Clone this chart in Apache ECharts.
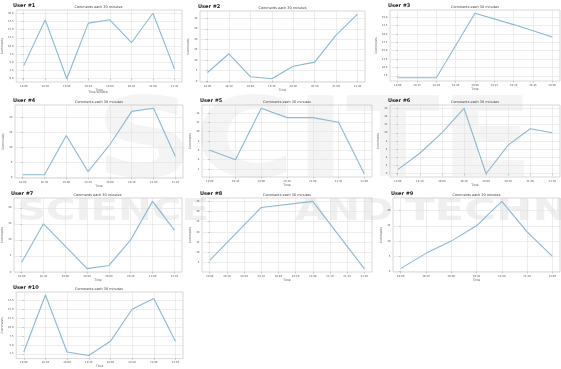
<!DOCTYPE html>
<html>
<head>
<meta charset="UTF-8">
<title>Comments per user</title>
<script src="https://cdn.jsdelivr.net/npm/echarts@6/dist/echarts.min.js"></script>
<style>
html, body { margin: 0; padding: 0; background: #fff; }
#main { width: 561px; height: 369px; }
</style>
</head>
<body>
<div id="main"></div>
<script>
// --- data ---
var users = ['User #1', 'User #2', 'User #3', 'User #4', 'User #5', 'User #6', 'User #7', 'User #8', 'User #9', 'User #10'];
var subTitle = 'Comments each 30 minutes';

var times8 = ['18:00', '18:30', '19:00', '19:30', '20:00', '20:30', '21:00', '21:30'];
var times7 = ['19:00', '19:30', '20:00', '20:30', '21:00', '21:30', '22:00'];
var times9 = ['18:00', '18:15', '18:30', '18:45', '19:00', '19:15', '19:30', '19:45', '20:00'];
var times10 = ['20:00', '20:10', '20:20', '20:30', '20:40', '20:50', '21:00', '21:10', '21:20', '21:30'];

var xLabels = [times8, times8, times9, times8, times7, times8, times8, times10, times7, times8];
// x positions of the points (index into the tick labels)
var xPos = [
  [0, 1, 2, 3, 4, 5, 6, 7],
  [0, 1, 2, 3, 4, 5, 6, 7],
  [0, 2, 4, 6, 8],
  [0, 1, 2, 3, 4, 5, 6, 7],
  [0, 1, 2, 3, 4, 5, 6],
  [0, 1, 2, 3, 4, 5, 6, 7],
  [0, 1, 2, 3, 4, 5, 6, 7],
  [0, 3, 6, 9],
  [0, 1, 2, 3, 4, 5, 6],
  [0, 1, 2, 3, 4, 5, 6, 7]
];
var comments = [
  [4, 18, 0, 17, 18, 11, 20, 3],
  [4, 13, 2, 1, 7, 9, 22, 32],
  [6.9, 6.9, 26.2, 22.8, 19.1],
  [1, 1, 14, 2, 11, 22, 23, 7],
  [6, 4, 15, 13, 13, 12, 1],
  [1, 5, 10, 16, 0, 7, 11, 10],
  [3, 15, 8, 1, 2, 10, 22, 13],
  [6, 32, 35, 2],
  [1, 6, 10, 15, 23, 13, 5],
  [3, 19, 3, 2, 6, 15, 18, 6]
];
var yTicks = [
  [0, 2.5, 5, 7.5, 10, 12.5, 15, 17.5, 20],
  [0, 5, 10, 15, 20, 25, 30],
  [7.5, 10, 12.5, 15, 17.5, 20, 22.5, 25],
  [0, 5, 10, 15, 20],
  [2, 4, 6, 8, 10, 12, 14],
  [0, 2, 4, 6, 8, 10, 12, 14, 16],
  [0, 5, 10, 15, 20],
  [5, 10, 15, 20, 25, 30, 35],
  [0, 5, 10, 15, 20],
  [2.5, 5, 7.5, 10, 12.5, 15, 17.5]
];
var yDecimals = [1, 0, 1, 0, 0, 0, 0, 0, 0, 1];

// --- layout of the panels (left, top, right, bottom in px) ---
var boxes = [
  [15, 10, 182, 82], [200, 11, 365, 82], [390, 10, 560, 81],
  [15, 105, 183, 178], [202, 105, 372, 177], [390, 105, 560, 177],
  [13, 198, 182, 272], [202, 198, 372, 272], [393, 198, 560, 272],
  [15, 292, 183, 365]
];

var lineColor = '#8ab8d1';
var gridColor = '#e0e0e0';
var textColor = '#555';

var grids = [], xAxes = [], yAxes = [], series = [], graphics = [];

// faint watermark
graphics.push({ type: 'text', x: 95, y: 92, z: -10, scaleX: 1.25,
  style: { text: 'SCITE', font: 'bold 110px "DejaVu Sans"', fill: '#f4f4f4' } });
graphics.push({ type: 'text', x: 17, y: 196, z: -10, scaleX: 1.3,
  style: { text: 'SCIENCE', font: 'bold 31px "DejaVu Sans"', fill: '#efefef' } });
graphics.push({ type: 'text', x: 295, y: 196, z: -10, scaleX: 1.3,
  style: { text: 'AND', font: 'bold 31px "DejaVu Sans"', fill: '#efefef' } });
graphics.push({ type: 'text', x: 405, y: 196, z: -10, scaleX: 1.4,
  style: { text: 'TECHNOLOGY', font: 'bold 31px "DejaVu Sans"', fill: '#efefef' } });

for (var i = 0; i < users.length; i++) {
  var b = boxes[i];
  var vals = comments[i];
  var lo = Math.min.apply(null, vals), hi = Math.max.apply(null, vals);
  var pad = (hi - lo) * 0.05;
  var nx = xLabels[i].length - 1;
  var xt = xLabels[i].map(function (d, k) { return k; });
  var labs = xLabels[i];
  var dec = yDecimals[i];

  grids.push({ left: b[0], top: b[1], width: b[2] - b[0], height: b[3] - b[1],
    show: true, borderColor: '#bdbdbd', borderWidth: 0.6 });

  xAxes.push({
    type: 'value', gridIndex: i, min: -nx * 0.05, max: nx * 1.05,
    name: 'Time', nameLocation: 'middle', nameGap: 5,
    nameTextStyle: { fontSize: 3, color: textColor },
    axisLine: { show: false },
    axisTick: { show: true, length: 1.5, lineStyle: { color: '#999', width: 0.5 }, customValues: xt },
    axisLabel: { fontSize: 2.6, color: textColor, margin: 2.5, customValues: xt,
      formatter: (function (l) { return function (v) { return l[Math.round(v)] || ''; }; })(labs) },
    splitLine: { show: true, lineStyle: { color: gridColor, width: 0.6 } }
  });

  yAxes.push({
    type: 'value', gridIndex: i, min: lo - pad, max: hi + pad,
    name: 'Comments', nameLocation: 'middle', nameGap: 10,
    nameTextStyle: { fontSize: 3, color: textColor },
    axisLine: { show: false },
    axisTick: { show: true, length: 1.5, lineStyle: { color: '#999', width: 0.5 }, customValues: yTicks[i] },
    axisLabel: { fontSize: 2.6, color: textColor, margin: 2.5, customValues: yTicks[i],
      formatter: (function (d) { return function (v) { return v.toFixed(d); }; })(dec) },
    splitLine: { show: true, lineStyle: { color: gridColor, width: 0.6 } }
  });

  series.push({
    type: 'line', xAxisIndex: i, yAxisIndex: i,
    data: xPos[i].map(function (x, k) { return [x, vals[k]]; }),
    showSymbol: false, animation: false,
    lineStyle: { color: lineColor, width: 1.1 }
  });

  graphics.push({ type: 'text', x: b[0] - 2, y: b[1] - 4,
    style: { text: users[i], font: 'bold 5px "DejaVu Sans"', fill: '#222', textVerticalAlign: 'middle' } });
  graphics.push({ type: 'text', x: (b[0] + b[2]) / 2, y: b[1] - 3,
    style: { text: subTitle, font: '3.4px "DejaVu Sans"', fill: '#333', textAlign: 'center', textVerticalAlign: 'middle' } });
}

graphics.push({ type: 'text', x: 98, y: 92.5,
  style: { text: 'Time window', font: '3px "DejaVu Sans"', fill: textColor, textAlign: 'center', textVerticalAlign: 'middle' } });

var chart = echarts.init(document.getElementById('main'));
chart.setOption({
  backgroundColor: '#fff',
  animation: false,
  textStyle: { fontFamily: 'DejaVu Sans' },
  grid: grids,
  xAxis: xAxes,
  yAxis: yAxes,
  series: series,
  graphic: graphics
});
</script>
</body>
</html>
